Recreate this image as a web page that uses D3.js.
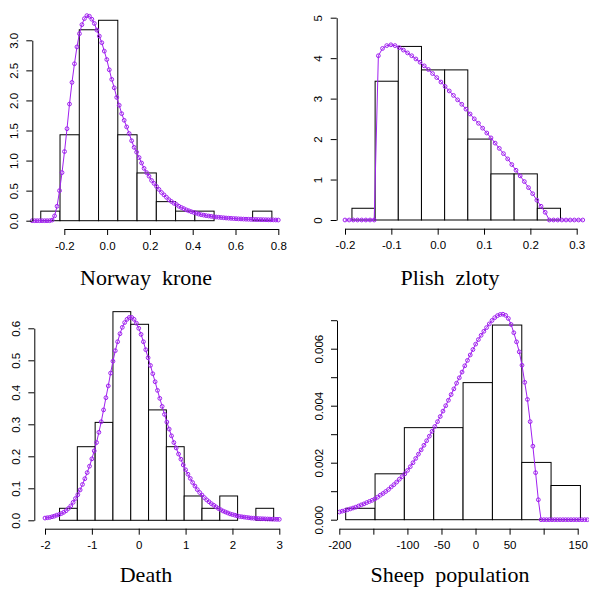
<!DOCTYPE html>
<html><head><meta charset="utf-8">
<script src="https://cdn.jsdelivr.net/npm/d3@7"></script>
<style>body{margin:0;background:#fff}svg{display:block}</style>
</head><body><svg id="c" width="589" height="589"></svg>
<script>
// ---------------- data ----------------
// Norway krone
const norwayTitle = "Norway  krone";
const norwayBreaks = [-0.31,-0.22,-0.13,-0.04,0.05,0.14,0.23,0.32,0.41,0.50,0.59,0.68,0.77];
const norwayDensity = [0.159,1.429,3.175,3.333,1.429,0.794,0.317,0.159,0.159,0,0,0.159];
const norwayCurveRange = [-0.35, 0.80];
const norwayCurve = [0,0,0,0,0,0,0,0,
  0.01,0.08,0.24,0.50,0.80,1.15,1.53,1.94,2.30,2.61,2.89,3.11,3.26,3.36,3.41,
  3.40,3.35,3.28,3.17,3.07,2.96,2.82,2.68,2.51,2.35,2.21,2.05,1.92,1.78,1.67,
  1.56,1.45,1.33,1.22,1.14,1.05,0.96,0.87,0.80,0.74,0.67,0.62,0.57,0.52,0.47,
  0.43,0.39,0.35,0.32,0.29,0.27,0.24,0.22,0.20,0.18,0.165,0.15,0.137,0.125,0.11,
  0.10,0.092,0.084,0.078,0.072,0.066,0.061,0.057,0.053,0.049,0.045,0.042,0.039,
  0.036,0.034,0.031,0.029,0.027,0.025,0.024,0.022,0.021,0.020,0.019,0.018,0.017,
  0.016,0.015,0.014,0.013,0.012,0.011];
const norwayXTicks = [-0.2,0,0.2,0.4,0.6,0.8];
const norwayXLabels = ["-0.2","0.0","0.2","0.4","0.6","0.8"];
const norwayYTicks = [0,0.5,1,1.5,2,2.5,3];
const norwayYLabels = ["0.0","0.5","1.0","1.5","2.0","2.5","3.0"];

// Plish zloty
const plishTitle = "Plish  zloty";
const plishBreaks = [-0.185,-0.135,-0.085,-0.035,0.015,0.065,0.115,0.165,0.215,0.265];
const plishDensity = [0.29,3.43,4.29,3.71,3.71,2.0,1.14,1.14,0.29];
const plishCurveRange = [-0.2, 0.313];
const plishCurve = [0,0,0,0,0,0,0,0,
  4.06,4.24,4.31,4.33,4.31,4.26,4.20,4.13,4.06,3.98,3.90,3.81,3.72,3.62,3.52,
  3.41,3.30,3.19,3.08,2.97,2.86,2.74,2.62,2.50,2.39,2.27,2.15,2.03,1.90,1.77,
  1.64,1.51,1.37,1.23,1.09,0.95,0.80,0.65,0.49,0.34,0.19,
  0,0,0,0,0,0,0,0,0];
const plishXTicks = [-0.2,-0.1,0,0.1,0.2,0.3];
const plishXLabels = ["-0.2","-0.1","0.0","0.1","0.2","0.3"];
const plishYTicks = [0,1,2,3,4,5];
const plishYLabels = ["0","1","2","3","4","5"];

// Death
const deathTitle = "Death";
const deathBreaks = [-1.69,-1.31,-0.93,-0.55,-0.17,0.21,0.59,0.97,1.35,1.73,2.11,2.50,2.88];
const deathDensity = [0.0375,0.23,0.306,0.652,0.6125,0.345,0.23,0.076,0.0375,0.076,0,0.0375];
const deathCurveRange = [-2, 3];
const deathCurve = [0.007,0.008,0.009,0.011,0.013,0.016,0.018,0.021,0.025,0.030,
  0.037,0.045,0.056,0.068,0.080,0.095,0.112,0.130,0.149,0.169,
  0.192,0.217,0.243,0.275,0.308,0.345,0.383,0.42,0.46,0.497,
  0.53,0.558,0.583,0.603,0.618,0.628,0.634,0.634,0.628,0.616,
  0.60,0.581,0.558,0.533,0.508,0.484,0.458,0.433,0.406,0.381,
  0.356,0.331,0.307,0.285,0.264,0.243,0.226,0.207,0.191,0.173,
  0.158,0.144,0.131,0.118,0.107,0.096,0.087,0.079,0.071,0.064,
  0.058,0.052,0.047,0.042,0.037,0.033,0.029,0.026,0.023,0.020,
  0.018,0.016,0.014,0.012,0.011,0.010,0.009,0.008,0.007,0.0065,
  0.006,0.0055,0.005,0.0047,0.0044,0.0041,0.0038,0.0035,0.0033,0.0031,
  0.003];
const deathXTicks = [-2,-1,0,1,2,3];
const deathXLabels = ["-2","-1","0","1","2","3"];
const deathYTicks = [0,0.1,0.2,0.3,0.4,0.5,0.6];
const deathYLabels = ["0.0","0.1","0.2","0.3","0.4","0.5","0.6"];

// Sheep population
const sheepTitle = "Sheep  population";
const sheepBreaks = [-190.6,-147.5,-104.5,-61.4,-18.3,24.8,67.9,110.9,154.0];
const sheepDensity = [0.0004,0.00161,0.00323,0.00323,0.00481,0.00683,0.00201,0.0012];
const sheepCurveRange = [-199.8, 164.2];
const sheepCurve = [0.00027,0.00030,0.00032,0.00035,0.00038,0.00041,0.00044,0.00048,0.00052,0.000555,
  0.00060,0.00064,0.00068,0.00073,0.00079,0.00086,0.00092,0.00099,0.00106,0.00115,
  0.00123,0.00132,0.00142,0.00151,0.00161,0.00173,0.00186,0.00200,0.00215,0.00230,
  0.00245,0.00261,0.00277,0.00293,0.00310,0.00327,0.00344,0.00362,0.00381,0.00400,
  0.00419,0.00439,0.00459,0.00479,0.00498,0.00518,0.00540,0.00559,0.00578,0.00597,
  0.00616,0.00632,0.00647,0.00661,0.00674,0.00687,0.00699,0.00709,0.00716,0.00720,
  0.00721,0.00717,0.00706,0.00685,0.00656,0.00624,0.00589,0.00542,0.00482,0.00422,
  0.00344,0.00258,0.00165,0.00070,0,
  0,0,0,0,0,0,0,0,0,0,0,0,0,0,0,0,0];
const sheepXTicks = [-200,-150,-100,-50,0,50,100,150];
const sheepXLabels = ["-200","","-100","-50","0","50","","150"];
const sheepYTicks = [0,0.001,0.002,0.003,0.004,0.005,0.006,0.007];
const sheepYLabels = ["0.000","","0.002","","0.004","","0.006",""];

// ---------------- layout (pixels) ----------------
const panels = [
  {title: norwayTitle, breaks: norwayBreaks, density: norwayDensity, cr: norwayCurveRange, curve: norwayCurve,
   xt: norwayXTicks, xl: norwayXLabels, yt: norwayYTicks, yl: norwayYLabels,
   xd: [-0.2, 0.8], xr: [64.3, 278.3], yd: [0, 3], yr: [220.7, 40.3], axX: 32.3, axY: 229, tx: 146, ty: 284.5},
  {title: plishTitle, breaks: plishBreaks, density: plishDensity, cr: plishCurveRange, curve: plishCurve,
   xt: plishXTicks, xl: plishXLabels, yt: plishYTicks, yl: plishYLabels,
   xd: [-0.2, 0.3], xr: [345, 576.7], yd: [0, 5], yr: [220, 17.7], axX: 336.7, axY: 228.7, tx: 450, ty: 284.5},
  {title: deathTitle, breaks: deathBreaks, density: deathDensity, cr: deathCurveRange, curve: deathCurve,
   xt: deathXTicks, xl: deathXLabels, yt: deathYTicks, yl: deathYLabels,
   xd: [-2, 3], xr: [45, 279.3], yd: [0, 0.6], yr: [520.3, 328.3], axX: 34.3, axY: 528.7, tx: 146, ty: 581.5},
  {title: sheepTitle, breaks: sheepBreaks, density: sheepDensity, cr: sheepCurveRange, curve: sheepCurve,
   xt: sheepXTicks, xl: sheepXLabels, yt: sheepYTicks, yl: sheepYLabels,
   xd: [-200, 150], xr: [339.3, 577.7], yd: [0, 0.007], yr: [519.7, 320.2], axX: 337, axY: 528.7, tx: 450, ty: 581.5}
];

const svg = d3.select("#c");
const PURPLE = "#a020f0";
const axisFont = "'Liberation Sans', Arial, Helvetica, sans-serif";

panels.forEach(p => {
  const x = d3.scaleLinear().domain(p.xd).range(p.xr);
  const y = d3.scaleLinear().domain(p.yd).range(p.yr);
  const g = svg.append("g");

  // histogram bars
  g.selectAll("rect.bar").data(p.density).join("rect")
    .attr("class", "bar")
    .attr("x", (d, i) => x(p.breaks[i]))
    .attr("width", (d, i) => x(p.breaks[i + 1]) - x(p.breaks[i]))
    .attr("y", d => y(d))
    .attr("height", d => y(0) - y(d))
    .attr("fill", "#fff").attr("stroke", "#000").attr("stroke-width", 1);

  // fitted curve
  const n = p.curve.length;
  const step = (p.cr[1] - p.cr[0]) / (n - 1);
  const pts = p.curve.map((v, i) => [p.cr[0] + i * step, v]);
  g.append("path").datum(pts)
    .attr("d", d3.line().x(d => x(d[0])).y(d => y(d[1])))
    .attr("fill", "none").attr("stroke", PURPLE).attr("stroke-width", 1);
  g.selectAll("circle.pt").data(pts).join("circle")
    .attr("class", "pt")
    .attr("cx", d => x(d[0])).attr("cy", d => y(d[1])).attr("r", 1.9)
    .attr("fill", "none").attr("stroke", PURPLE).attr("stroke-width", 1);

  // x axis
  const xa = g.append("g").attr("transform", `translate(0,${p.axY})`)
    .call(d3.axisBottom(x).tickValues(p.xt).tickFormat((d, i) => p.xl[i]).tickSize(6).tickSizeOuter(0));
  xa.selectAll("text").attr("y", 20.5).attr("dy", null)
    .style("font-family", axisFont).style("font-size", "11.5px").attr("fill", "#000");
  xa.selectAll("path,line").attr("stroke", "#000");

  // y axis
  const ya = g.append("g").attr("transform", `translate(${p.axX},0)`)
    .call(d3.axisLeft(y).tickValues(p.yt).tickFormat((d, i) => p.yl[i]).tickSize(6).tickSizeOuter(0));
  ya.selectAll("text").attr("transform", "rotate(-90)").attr("x", 0).attr("y", -14.5).attr("dy", null)
    .attr("text-anchor", "middle")
    .style("font-family", axisFont).style("font-size", "11.5px").attr("fill", "#000");
  ya.selectAll("path,line").attr("stroke", "#000");

  // title
  svg.append("text").attr("x", p.tx).attr("y", p.ty)
    .attr("text-anchor", "middle")
    .style("white-space", "pre")
    .style("font-family", "'Liberation Serif', 'Times New Roman', Times, serif")
    .style("font-size", "22px").attr("fill", "#000")
    .text(p.title);
});
</script>
</body></html>
